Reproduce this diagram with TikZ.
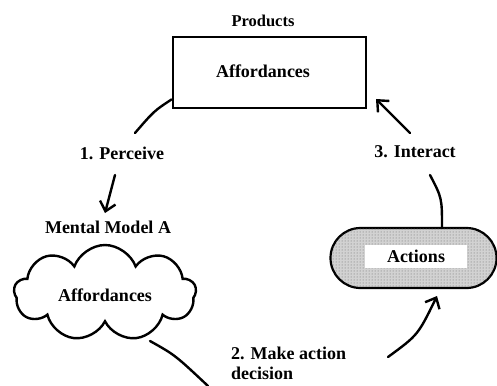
\documentclass[tikz,border=0pt]{standalone}
\usepackage{fontspec}
\setmainfont{Liberation Serif}
\usetikzlibrary{shapes.symbols,arrows.meta,patterns}
\tikzset{
  lbl/.style={font=\fontsize{18}{20}\selectfont\bfseries, inner sep=1pt},
  flow/.style={line width=2.4pt, line cap=round},
  flowarrow/.style={flow, -{Straight Barb[length=9pt,width=16pt,line width=2.4pt]}},
}
\begin{document}
\begin{tikzpicture}[x=1pt,y=-1pt]
\useasboundingbox (0,0) rectangle (497,385);

% product box
\node[draw, line width=2.8pt, minimum width=193pt, minimum height=71pt, inner sep=0pt]
  (box) at (269.5,72.5) {};
\node[lbl] (boxtxt) at (263,71) {Affordances};
\node[lbl, font=\fontsize{16.5}{18}\selectfont\bfseries] (products) at (263,21) {Products};

% mental model cloud
\node[lbl] (mm) at (108,227) {Mental Model A};
\node[cloud, draw, line width=2.4pt, cloud puffs=9, cloud puff arc=140,
      cloud ignores aspect, minimum width=182pt, minimum height=96pt, inner sep=0pt]
  (cloud) at (105,293) {};
\node[lbl] (cloudtxt) at (105,295) {Affordances};

% actions pill
\node[draw, line width=2.2pt, rounded corners=30pt, minimum width=166pt, minimum height=60pt,
      inner sep=0pt, fill=gray!35, postaction={pattern=dots, pattern color=gray!80!black}]
  (pill) at (413.5,258) {};
\node[lbl, fill=white, minimum width=102pt, minimum height=23pt] (acts) at (416,256.5) {Actions};

% step labels
\node[lbl] (perc) at (122,153) {1. Perceive};
\node[lbl] (inter) at (415,152) {3. Interact};
\node[lbl, align=left, anchor=north west] (decide) at (230,346) {2. Make action\\decision};

% connector end points
\coordinate (p1) at (135,133);
\coordinate (p2) at (115,175);
\coordinate (p3) at (105,213);
\coordinate (c1) at (150,341);
\coordinate (c2) at (208,386);
\coordinate (a1) at (388,357);
\coordinate (a2) at (437,296);
\coordinate (i1) at (430,175);
\coordinate (i2) at (410,133);
\coordinate (i3) at (376,99);
\coordinate (b1) at ([yshift=10pt]box.south west);
\coordinate (s1) at (442,228);

% step 1: perceive
\draw[flow] (b1) .. controls (154,111) .. (p1);
\draw[flowarrow] (p2) -- (p3);

% step 2: decide
\draw[flow] (c1) .. controls (175,355) .. (c2);
\draw[flowarrow] (a1) .. controls (418,335) .. (a2);

% step 3: interact
\draw[flow] (s1) .. controls (442,198) .. (i1);
\draw[flowarrow] (i2) -- (i3);
\end{tikzpicture}
\end{document}
